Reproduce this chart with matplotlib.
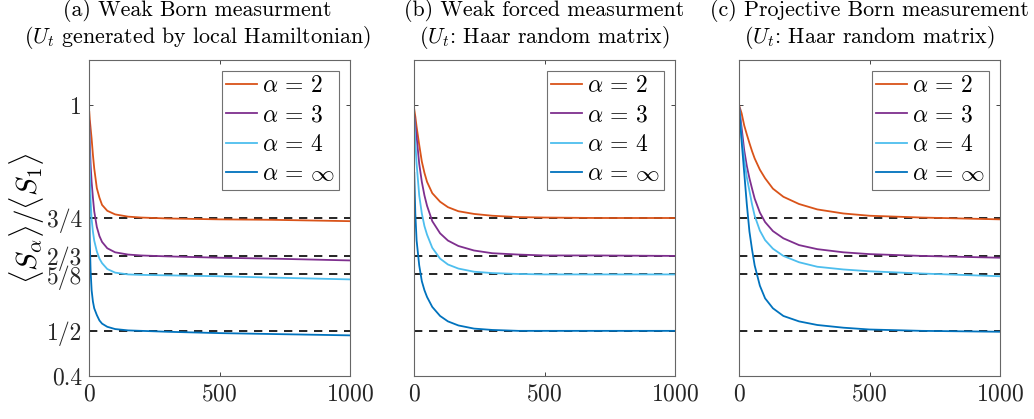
import numpy as np
import matplotlib
matplotlib.use("Agg")
import matplotlib.pyplot as plt

plt.rcParams['font.family'] = 'serif'
plt.rcParams['font.serif'] = ['cmr10']
plt.rcParams['mathtext.fontset'] = 'cm'
plt.rcParams['axes.formatter.use_mathtext'] = True

# MATLAB default colours
colors = ['#D95319', '#7E2F8E', '#4DBEEE', '#0072BD']
labels = [r'$\alpha\,=\,2$', r'$\alpha\,=\,3$', r'$\alpha\,=\,4$', r'$\alpha\,=\,\infty$']
plateaus = [3/4, 2/3, 5/8, 1/2]

# (a) weak Born measurement, local Hamiltonian
t_a = [1, 3, 6, 10, 15, 20, 30, 40, 50, 70, 100, 150, 200, 300, 500, 700, 1000]
a_s2 = [0.985, 0.968, 0.950, 0.926, 0.890, 0.860, 0.816, 0.795, 0.779, 0.766, 0.758, 0.753, 0.751, 0.749, 0.747, 0.746, 0.743]
a_s3 = [0.965, 0.920, 0.870, 0.830, 0.795, 0.765, 0.730, 0.710, 0.697, 0.683, 0.674, 0.669, 0.667, 0.665, 0.662, 0.660, 0.656]
a_s4 = [0.950, 0.870, 0.790, 0.748, 0.720, 0.700, 0.676, 0.660, 0.650, 0.637, 0.629, 0.625, 0.624, 0.623, 0.621, 0.618, 0.614]
a_sinf = [0.800, 0.700, 0.635, 0.590, 0.565, 0.550, 0.535, 0.523, 0.516, 0.509, 0.504, 0.501, 0.500, 0.498, 0.495, 0.493, 0.490]

# (b) weak forced measurement, Haar random
t_b = [1, 5, 10, 20, 30, 40, 50, 70, 100, 130, 170, 230, 300, 400, 500, 700, 1000]
b_s2 = [0.990, 0.975, 0.952, 0.912, 0.875, 0.850, 0.830, 0.805, 0.786, 0.774, 0.765, 0.759, 0.755, 0.752, 0.751, 0.750, 0.750]
b_s3 = [0.978, 0.955, 0.930, 0.870, 0.830, 0.800, 0.777, 0.743, 0.716, 0.700, 0.688, 0.678, 0.672, 0.669, 0.667, 0.667, 0.666]
b_s4 = [0.970, 0.920, 0.870, 0.800, 0.760, 0.732, 0.713, 0.684, 0.660, 0.647, 0.638, 0.631, 0.628, 0.626, 0.625, 0.625, 0.625]
b_sinf = [0.850, 0.760, 0.700, 0.645, 0.610, 0.590, 0.575, 0.553, 0.533, 0.521, 0.512, 0.505, 0.502, 0.500, 0.500, 0.500, 0.500]

# (c) projective Born measurement, Haar random
t_c = [0, 10, 20, 30, 40, 50, 60, 80, 100, 130, 170, 230, 300, 400, 500, 700, 1000]
c_s2 = [1.0, 0.982, 0.955, 0.935, 0.916, 0.898, 0.882, 0.857, 0.838, 0.815, 0.797, 0.781, 0.769, 0.760, 0.755, 0.751, 0.747]
c_s3 = [1.0, 0.950, 0.900, 0.865, 0.838, 0.815, 0.793, 0.762, 0.741, 0.721, 0.705, 0.690, 0.681, 0.674, 0.670, 0.666, 0.662]
c_s4 = [1.0, 0.930, 0.880, 0.840, 0.810, 0.780, 0.755, 0.722, 0.701, 0.682, 0.666, 0.652, 0.642, 0.636, 0.632, 0.627, 0.621]
c_sinf = [1.0, 0.920, 0.850, 0.780, 0.720, 0.680, 0.645, 0.600, 0.572, 0.550, 0.533, 0.521, 0.513, 0.507, 0.503, 0.500, 0.498]

panels = [
    (t_a, [a_s2, a_s3, a_s4, a_sinf],
     "(a) Weak Born measurment\n($U_t$ generated by local Hamiltonian)"),
    (t_b, [b_s2, b_s3, b_s4, b_sinf],
     "(b) Weak forced measurment\n($U_t$: Haar random matrix)"),
    (t_c, [c_s2, c_s3, c_s4, c_sinf],
     "(c) Projective Born measurement\n($U_t$: Haar random matrix)"),
]
title_x = [0.414, 0.5, 0.5]

yticks = [0.4, 1/2, 5/8, 2/3, 3/4, 1]
yticklabels = ['0.4', '1/2', '5/8', '2/3', '3/4', '1']

fig = plt.figure(figsize=(10.34, 4.19), dpi=100)
lefts = [89, 414, 739]
for i, (t, series, title) in enumerate(panels):
    ax = fig.add_axes([lefts[i] / 1034, 43 / 419, 261 / 1034, 316 / 419])
    for y, c, lab in zip(series, colors, labels):
        ax.plot(t, y, color=c, lw=1.3, label=lab)
    for p in plateaus:
        ax.plot([0, 1000], [p, p], 'k--', lw=1.2, dashes=(5, 4), zorder=1)
    ax.set_xlim(0, 1000)
    ax.set_ylim(0.4, 1.1)
    ax.set_xticks([0, 500, 1000])
    ax.set_yticks(yticks)
    if i == 0:
        ax.set_yticklabels(yticklabels)
        ax.set_ylabel(r'$\langle S_\alpha\rangle/\langle S_1\rangle$', fontsize=21, labelpad=0)
    else:
        ax.set_yticklabels([])
    ax.tick_params(direction='in', top=True, right=True, length=3, width=0.6,
                   labelsize=17, colors='0.15', pad=5)
    for s in ax.spines.values():
        s.set_color('0.4')
        s.set_linewidth(0.8)
    ax.set_title(title, fontsize=15.8, linespacing=1.1, pad=12, x=title_x[i])
    leg = ax.legend(loc='upper right', fontsize=17, handlelength=1.3, handletextpad=0.2,
                    labelspacing=0.3, borderpad=0.2, borderaxespad=0.45, fancybox=False)
    leg.get_frame().set_edgecolor('0.3')
    leg.get_frame().set_linewidth(0.8)

fig.savefig('out.png', dpi=100)
